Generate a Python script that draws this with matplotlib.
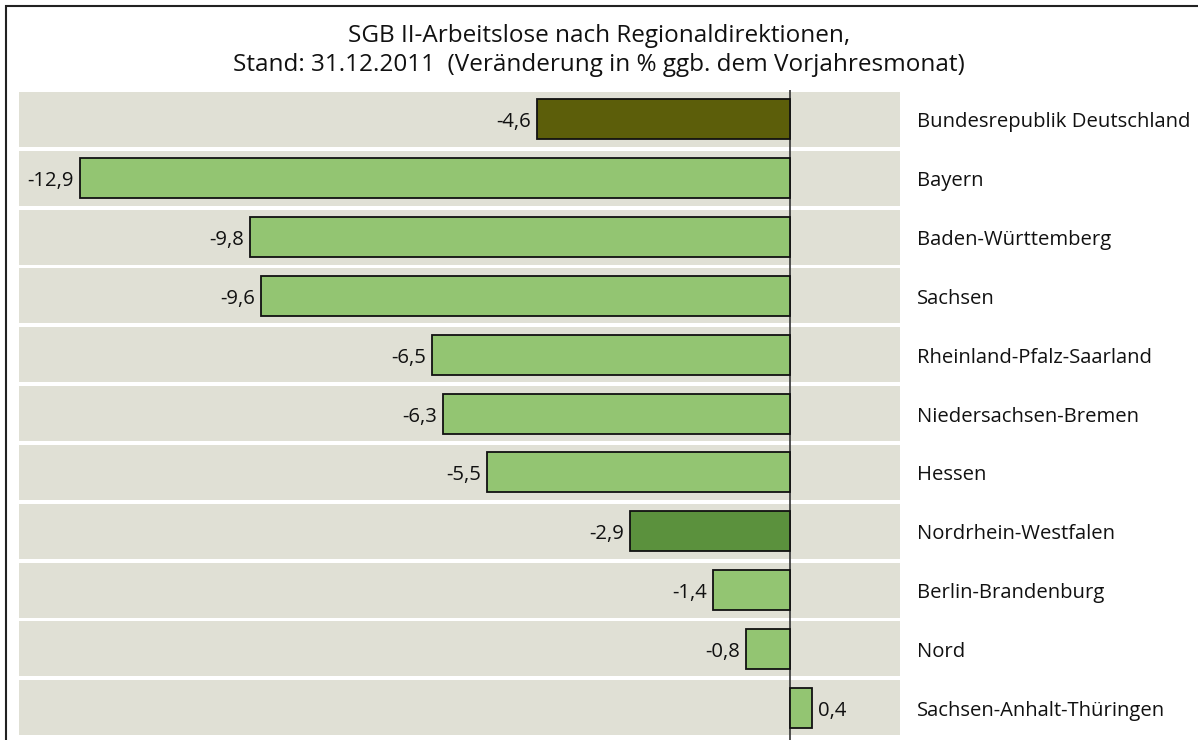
import matplotlib.pyplot as plt
from matplotlib.patches import Rectangle

plt.rcParams['font.family'] = ['Open Sans', 'DejaVu Sans']

# ------ data (top to bottom) ------
regions = ['Bundesrepublik Deutschland', 'Bayern', 'Baden-Württemberg', 'Sachsen',
           'Rheinland-Pfalz-Saarland', 'Niedersachsen-Bremen', 'Hessen',
           'Nordrhein-Westfalen', 'Berlin-Brandenburg', 'Nord', 'Sachsen-Anhalt-Thüringen']
changes = [-4.6, -12.9, -9.8, -9.6, -6.5, -6.3, -5.5, -2.9, -1.4, -0.8, 0.4]
bar_colors = ['#5c5e0a', '#93c572', '#93c572', '#93c572', '#93c572', '#93c572',
              '#93c572', '#5b913d', '#93c572', '#93c572', '#93c572']

# ------ figure layout ------
W, H = 1198, 740
fig = plt.figure(figsize=(W / 100, H / 100), dpi=100)
ax = fig.add_axes([19 / W, 0, (900 - 19) / W, (740 - 90) / H])
ax.set_xlim(-14.0, 2.0)
ax.set_ylim(10.55, -0.5)
ax.axis('off')

# frame around the chart (cut off at right and bottom)
fig.patches.append(Rectangle((6 / W, -0.1), 1.2, 1.1 - 6 / H, transform=fig.transFigure,
                             fill=False, edgecolor='#222222', linewidth=1.5))

# ------ title ------
fig.text(0.5, 1 - 42 / H, 'SGB II-Arbeitslose nach Regionaldirektionen,',
         ha='center', va='baseline', fontsize=17.5, color='#111111')
fig.text(0.5, 1 - 71 / H, 'Stand: 31.12.2011  (Veränderung in % ggb. dem Vorjahresmonat)',
         ha='center', va='baseline', fontsize=17.5, color='#111111')

# ------ rows ------
ypos = list(range(len(regions)))
ax.barh(ypos, [16] * len(ypos), left=-14, height=0.935, color='#e0e0d5', zorder=1)
ax.barh(ypos, changes, height=0.68, color=bar_colors, edgecolor='#111111',
        linewidth=1.3, zorder=3)
ax.axvline(0, color='#333333', linewidth=1.2, zorder=2)

for y, v, name in zip(ypos, changes, regions):
    label = f'{v:.1f}'.replace('.', ',')
    if v < 0:
        ax.annotate(label, (v, y), xytext=(-6, -8), textcoords='offset pixels',
                    ha='right', va='baseline', fontsize=14.6, color='#111111')
    else:
        ax.annotate(label, (v, y), xytext=(6, -8), textcoords='offset pixels',
                    ha='left', va='baseline', fontsize=14.6, color='#111111')
    ax.annotate(name, (2.305, y), xytext=(0, -8), textcoords='offset pixels',
                ha='left', va='baseline', fontsize=14.6, color='#111111',
                annotation_clip=False)

plt.savefig('out.png', dpi=100)
